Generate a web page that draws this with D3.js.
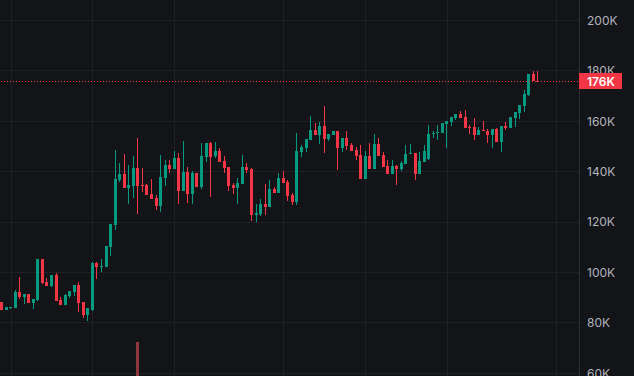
<!DOCTYPE html>
<html>
<head>
<meta charset="utf-8">
<script src="https://cdn.jsdelivr.net/npm/d3@7/dist/d3.min.js"></script>
<style>
  html, body { margin: 0; padding: 0; background: #131418; overflow: hidden; }
  svg { display: block; }
  text { font-family: Inter, Roboto, "Noto Sans", sans-serif; }
</style>
</head>
<body>
<svg id="chart" width="634" height="376"></svg>
<script>
// Prices in thousands (K)
const opens = [88.1,85.0,85.7,85.8,92.1,90.1,91.3,87.7,88.9,105.2,
96.0,94.5,98.8,88.9,86.9,90.5,92.1,94.9,88.1,83.0,
84.9,103.6,102.2,102.0,109.9,118.7,136.5,138.9,133.3,134.1,
141.3,134.5,134.5,131.0,129.4,126.2,137.3,142.5,140.9,145.2,
132.2,139.7,131.0,139.3,133.7,145.6,151.2,146.0,148.0,144.1,
141.7,134.5,133.3,134.9,141.7,140.9,122.6,123.0,127.0,125.8,
132.9,131.4,137.3,135.7,130.6,127.8,147.6,149.2,152.4,156.4,
154.4,157.9,152.8,154.4,156.0,149.2,153.2,150.4,148.4,146.4,
136.9,146.0,140.9,150.8,146.4,142.1,138.9,142.1,140.9,142.9,
147.0,147.2,138.9,143.7,144.9,155.0,155.4,155.2,158.7,159.5,
161.1,162.7,161.5,157.7,157.5,154.4,156.5,156.0,154.4,156.8,
151.6,157.9,157.1,161.1,163.1,165.9,170.2,178.6,175.8];
const closes = [84.9,86.1,86.1,92.1,90.1,91.3,87.7,89.3,105.2,95.7,
94.5,98.8,88.5,86.9,90.9,92.5,94.9,87.7,83.0,85.7,
103.6,102.0,102.4,110.3,119.1,136.9,138.9,133.3,134.5,141.3,
134.1,134.3,130.6,129.0,126.2,137.7,142.5,140.9,145.2,132.2,
139.7,131.0,139.3,133.7,146.0,151.2,145.6,148.0,143.7,141.3,
134.1,133.3,135.3,141.7,140.5,122.6,123.4,127.0,125.8,132.9,
131.4,137.3,135.3,130.2,127.8,148.0,149.6,152.8,156.4,154.4,
157.9,152.8,154.8,156.0,149.2,153.2,150.0,148.0,146.0,136.9,
146.0,140.9,150.8,146.0,141.7,138.9,142.1,140.9,143.3,146.8,
147.2,138.9,144.1,148.0,154.8,155.2,155.6,159.1,159.9,161.5,
162.7,161.1,157.1,157.5,154.4,156.4,156.3,154.4,156.8,151.6,
157.9,157.1,161.5,163.5,166.3,170.6,178.6,175.8,175.6];
const highs = [88.1,86.1,86.1,92.9,98.0,91.3,91.3,89.3,105.2,105.2,
97.6,98.8,99.6,90.1,91.3,92.5,94.9,96.0,88.1,85.7,
104.0,104.0,105.2,110.3,119.1,148.4,143.3,146.8,142.5,146.0,
153.2,141.3,134.9,136.9,130.6,146.4,144.5,144.5,148.0,147.2,
152.0,141.7,140.1,139.3,151.2,151.2,151.6,151.6,149.2,146.0,
141.7,135.3,137.3,146.4,143.3,141.3,127.0,129.0,134.9,136.5,
133.7,139.3,140.1,136.5,131.4,155.2,150.4,152.8,161.9,159.1,
159.5,165.9,154.8,156.0,156.0,153.2,156.0,151.2,149.6,150.4,
148.0,151.2,154.8,153.2,147.6,144.5,144.5,142.5,144.1,150.4,
150.8,147.2,147.6,150.4,158.3,156.0,158.3,159.1,159.9,161.5,
162.7,163.9,164.3,158.3,161.1,157.5,159.9,156.8,156.8,157.1,
157.9,159.5,161.5,163.5,166.3,172.2,178.6,179.8,179.8];
const lows = [84.9,84.9,85.5,85.7,89.3,87.4,87.7,85.3,88.5,95.3,
94.5,94.1,88.5,86.9,86.9,89.7,90.5,84.1,81.8,80.6,
84.5,97.2,100.0,102.0,106.4,116.7,135.7,133.3,127.0,129.4,
123.0,131.8,130.6,129.0,124.6,123.8,134.1,139.3,140.9,127.0,
132.2,127.4,127.0,133.7,132.9,143.7,129.8,145.2,143.7,139.3,
132.2,131.0,127.0,134.9,139.3,120.2,119.9,122.2,122.6,125.8,
131.4,131.4,135.3,128.2,126.6,126.6,145.6,147.6,152.4,154.4,
150.8,147.2,152.0,154.4,140.5,147.6,148.4,148.0,144.5,136.9,
136.9,140.9,140.9,146.0,141.7,138.9,138.9,134.5,140.1,142.9,
146.8,136.5,138.9,143.7,144.5,153.2,152.4,155.2,149.2,157.9,
160.3,161.1,157.1,154.8,152.4,154.4,156.3,151.2,149.2,151.6,
147.6,156.4,157.1,157.5,160.7,163.5,169.8,175.8,175.6];

// visible volume spike (bar index, relative volume)
const volumeIndex = [30];
const volumeValues = [58];

// y-axis tick values (K) and vertical grid positions (bar index)
const yTicks = [60, 80, 100, 120, 140, 160, 180, 200];
const timeGridIndex = [2, 20, 38, 62, 80, 98, 122];

const W = 634, H = 376, plotRight = 579;
const bg = "#131418", gridColor = "#1e2025";
const up = "#089981", down = "#f23645";

const svg = d3.select("#chart");
svg.append("rect").attr("width", W).attr("height", H).attr("fill", bg);

const x = d3.scaleLinear().domain([0, 118]).range([1.5, 537.8]);
const y = d3.scaleLinear().domain([60, 200]).range([372.8, 20]);
const yVol = d3.scaleLinear().domain([0, 100]).range([400, 300]);

const grid = svg.append("g").attr("shape-rendering", "crispEdges");
grid.selectAll("line.h").data(yTicks).join("line")
  .attr("x1", 0).attr("x2", plotRight)
  .attr("y1", d => Math.round(y(d)) + 0.5).attr("y2", d => Math.round(y(d)) + 0.5)
  .attr("stroke", gridColor).attr("stroke-width", 1);
grid.selectAll("line.v").data(timeGridIndex).join("line")
  .attr("x1", d => Math.round(x(d)) + 0.5).attr("x2", d => Math.round(x(d)) + 0.5)
  .attr("y1", 0).attr("y2", H)
  .attr("stroke", gridColor).attr("stroke-width", 1);

// volume
svg.append("g").attr("shape-rendering", "crispEdges").selectAll("rect").data(volumeIndex).join("rect")
  .attr("x", (d) => Math.round(x(d) - 1.5))
  .attr("width", 3)
  .attr("y", (d, i) => yVol(volumeValues[i]))
  .attr("height", (d, i) => 400 - yVol(volumeValues[i]))
  .attr("fill", "#8c363d");

const bars = d3.range(opens.length).map(i => ({i, o: opens[i], c: closes[i], h: highs[i], l: lows[i]}));
const cg = svg.append("g").attr("shape-rendering", "crispEdges");
const bx = d => Math.round(x(d.i) - 1.5);
cg.selectAll("rect.wick").data(bars).join("rect")
  .attr("x", d => bx(d) + 1).attr("width", 1)
  .attr("y", d => Math.round(y(d.h)))
  .attr("height", d => Math.max(1, Math.round(y(d.l)) - Math.round(y(d.h))))
  .attr("fill", d => d.c >= d.o ? up : down);
cg.selectAll("rect.body").data(bars).join("rect")
  .attr("x", d => bx(d)).attr("width", 3)
  .attr("y", d => Math.round(y(Math.max(d.o, d.c))))
  .attr("height", d => Math.max(1, Math.round(y(Math.min(d.o, d.c))) - Math.round(y(Math.max(d.o, d.c)))))
  .attr("fill", d => d.c >= d.o ? up : down);

// price line (dotted, drawn as 1px dots)
const last = closes[closes.length - 1];
const pyInt = Math.round(y(last));
svg.append("g").attr("shape-rendering", "crispEdges")
  .selectAll("rect").data(d3.range(1, plotRight, 3)).join("rect")
  .attr("x", d => d).attr("y", pyInt).attr("width", 1).attr("height", 1)
  .attr("fill", down);

// right axis
svg.append("line").attr("x1", plotRight + 0.5).attr("x2", plotRight + 0.5).attr("y1", 0).attr("y2", H)
  .attr("stroke", "#2a2d33").attr("stroke-width", 1).attr("shape-rendering", "crispEdges");
const axis = d3.axisRight(y).tickValues(yTicks).tickSize(0).tickPadding(0).tickFormat(d => d + "K");
const ag = svg.append("g").attr("transform", `translate(${plotRight + 8},0)`).call(axis);
ag.select(".domain").remove();
ag.selectAll("text").attr("fill", "#b2b5be").attr("font-size", 12)
  .attr("font-family", "Inter, Roboto, sans-serif").attr("dy", "0.35em");

// last price label
const lg = svg.append("g");
lg.append("rect").attr("x", plotRight).attr("y", pyInt - 8).attr("width", 43).attr("height", 16)
  .attr("fill", down).attr("shape-rendering", "crispEdges");
lg.append("text").attr("x", plotRight + 8).attr("y", pyInt + 0.5).attr("dy", "0.35em")
  .attr("fill", "#ffffff").attr("font-size", 12).attr("font-weight", 600)
  .text(Math.round(last) + "K");
</script>
</body>
</html>
